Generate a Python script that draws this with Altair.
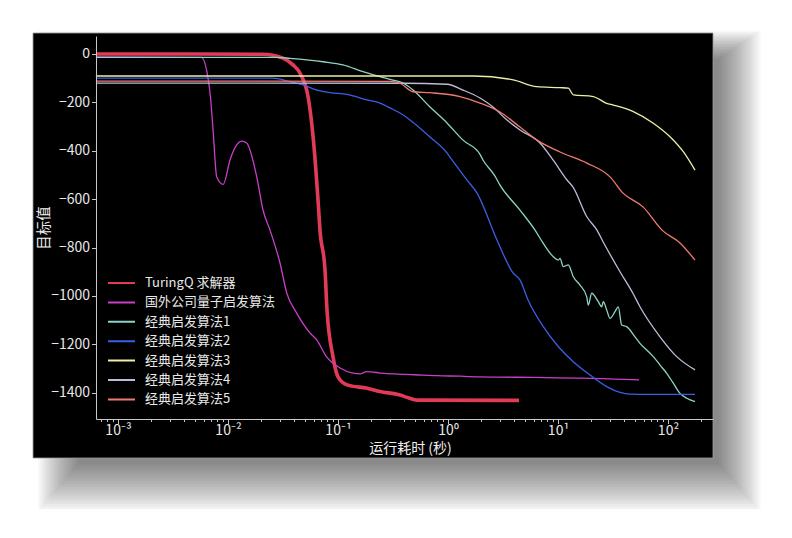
import altair as alt
import pandas as pd

# ---------------- data ----------------
names = ["TuringQ 求解器", "国外公司量子启发算法", "经典启发算法1", "经典启发算法2",
         "经典启发算法3", "经典启发算法4", "经典启发算法5"]
colors = ["#e23b58", "#c93fc9", "#8dd3c7", "#3a5fe5", "#eeeea8", "#bfbbd9", "#f07a70"]

turingq_t = [0.00063, 0.0056, 0.0208, 0.0316, 0.039, 0.0452, 0.0536, 0.0593, 0.0658,
             0.0686, 0.0762, 0.0794, 0.0901, 0.1, 0.121, 0.184, 0.241, 0.366, 0.44,
             0.523, 4.42]
turingq_v = [0, 0, -1, -17, -45, -80, -180, -340, -603, -730, -893, -1058, -1252,
             -1335, -1368, -1382, -1395, -1410, -1422, -1431, -1432]

quantum_t = [0.00063, 0.00572, 0.00662, 0.00697, 0.00735, 0.00789, 0.00906, 0.01043,
             0.012, 0.01341, 0.01479, 0.01824, 0.0208, 0.0241, 0.0297, 0.0342, 0.0421,
             0.0556, 0.064, 0.0789, 0.1043, 0.1369, 0.16, 0.1824, 0.2, 0.241, 0.3,
             0.341, 0.5, 0.8, 1.3, 1.954, 3.0, 6.0, 10.0, 15.85, 25.0, 40.0, 54.5]
quantum_v = [-12, -14, -107, -190, -328, -507, -539, -438, -376, -360, -368, -507,
             -645, -728, -864, -988, -1071, -1153, -1182, -1252, -1298, -1319, -1322,
             -1313, -1314, -1319, -1322, -1323, -1326, -1330, -1332, -1335, -1336,
             -1337, -1339, -1340, -1342, -1345, -1347]

classic1_t = [0.00063, 0.0279, 0.0366, 0.0731, 0.111, 0.1688, 0.241, 0.297, 0.39,
              0.481, 0.686, 0.979, 1.369, 1.954, 2.08, 2.675, 2.97, 4.51, 6.18, 7.35,
              9.06, 10.06, 10.43, 11.17, 12.41, 13.77, 15.85, 18.23, 18.86, 20.24,
              23.24, 24.96, 25.8, 27.7, 29.7, 32.97, 35.3, 37.9, 42.1, 45.1, 50.1,
              55.6, 64.0, 73.5, 84.6, 97.3, 111.7, 128.5, 147.9, 176]
classic1_v = [-14, -14, -18, -32, -45, -73, -94, -105, -120, -149, -219, -285, -356,
              -415, -438, -505, -542, -645, -728, -783, -838, -852, -845, -879, -872,
              -921, -955, -1003, -1038, -989, -1024, -1045, -1024, -1058, -1093,
              -1065, -1045, -1120, -1127, -1141, -1169, -1196, -1224, -1251, -1286,
              -1320, -1361, -1403, -1423, -1437]

classic2_t = [0.00063, 0.0251, 0.0366, 0.0481, 0.0644, 0.0846, 0.1207, 0.1836, 0.241,
              0.297, 0.366, 0.686, 0.979, 1.087, 1.488, 1.835, 2.788, 3.9, 4.51, 5.34,
              7.35, 9.79, 13.77, 19.54, 27.7, 36.6, 45.1, 64.4, 176]
classic2_v = [-100, -100, -114, -128, -149, -160, -167, -190, -203, -223, -244, -343,
              -409, -438, -521, -575, -769, -905, -934, -1017, -1127, -1203, -1272,
              -1327, -1375, -1399, -1406, -1407, -1407]

classic3_t = [0.00063, 1.70, 3.92, 6.4, 10.43, 12.4, 13.77, 20.9, 27.7, 31.8, 48.4,
              73.5, 104.3, 137.7, 176]
classic3_v = [-91, -91, -107, -135, -139, -141, -169, -176, -204, -211, -238, -286,
              -342, -404, -480]

classic4_t = [0.00063, 0.39, 0.979, 1.369, 1.954, 2.565, 3.436, 4.51, 6.86, 9.01, 12.08,
              13.69, 18.35, 22.6, 25.6, 36.6, 48.1, 55.6, 84.6, 120, 176]
classic4_v = [-120, -121, -125, -149, -182, -219, -273, -314, -368, -438, -521, -550,
              -674, -728, -775, -900, -990, -1045, -1169, -1251, -1306]

classic5_t = [0.00063, 0.297, 0.366, 0.481, 0.686, 1.285, 1.954, 2.97, 4.51, 6.44,
              10.43, 18.35, 29.7, 39.0, 59.3, 88.2, 128.5, 176]
classic5_v = [-112, -113, -121, -156, -160, -176, -203, -240, -302, -356, -405, -451,
              -508, -575, -632, -728, -781, -852]

series_t = [turingq_t, quantum_t, classic1_t, classic2_t, classic3_t, classic4_t, classic5_t]
series_v = [turingq_v, quantum_v, classic1_v, classic2_v, classic3_v, classic4_v, classic5_v]

y_ticks = [0, -200, -400, -600, -800, -1000, -1200, -1400]
x_major = [1e-3, 1e-2, 1e-1, 1e0, 1e1, 1e2]

# ---------------- build table ----------------
rows = []
for name, ts, vs in zip(names, series_t, series_v):
    for i, (t, v) in enumerate(zip(ts, vs)):
        rows.append({"series": name, "t": t, "v": v, "i": i})
df = pd.DataFrame(rows)

x_minor = [m * 10.0 ** k for k in range(-4, 3) for m in range(2, 10)]
x_minor = [v for v in x_minor if 10 ** -3.2 <= v <= 10 ** 2.409]
x_values = sorted(x_major + x_minor)

W, H = 617, 383
FONT = "Noto Sans CJK SC"
is_major = "abs(log(datum.value)/LN10 - round(log(datum.value)/LN10)) < 0.001"
sup_expr = (
    "round(log(datum.value)/LN10) == -3 ? '10⁻³' : "
    "round(log(datum.value)/LN10) == -2 ? '10⁻²' : "
    "round(log(datum.value)/LN10) == -1 ? '10⁻¹' : "
    "round(log(datum.value)/LN10) == 0 ? '10⁰' : "
    "round(log(datum.value)/LN10) == 1 ? '10¹' : "
    "round(log(datum.value)/LN10) == 2 ? '10²' : ''"
)

one = pd.DataFrame({"a": [0]})

# ---------------- decorative panel + shadow ----------------
layers = []
N = 20
for k in range(N):
    layers.append(
        alt.Chart(one).mark_rect(color="black", opacity=0.028).encode(
            x=alt.value(-63 + 45 - 2.1 * k),
            x2=alt.value(W + 6 + 2.2 * k),
            y=alt.value(-3 + 26 - 1.5 * k),
            y2=alt.value(422 + 6 + 2.5 * k),
        )
    )
layers.append(
    alt.Chart(one).mark_rect(color="black", stroke="#9a9a9a", strokeWidth=0.8).encode(
        x=alt.value(-63), x2=alt.value(W), y=alt.value(-3), y2=alt.value(422)
    )
)

lines = alt.Chart(df).mark_line(interpolate="monotone").encode(
    x=alt.X(
        "t:Q",
        scale=alt.Scale(type="log", domain=[10 ** -3.2, 10 ** 2.409], nice=False),
        axis=alt.Axis(
            title="运行耗时 (秒)",
            values=x_values,
            labelExpr=f"{is_major} ? ({sup_expr}) : ''",
            labelOverlap=False,
            labelFlush=False,
            grid=False,
            tickSize={"condition": {"test": is_major, "value": 4.5}, "value": 2.5},
            tickColor="#c8c8c8",
            domainColor="#c8c8c8",
            labelColor="#e8e8e8",
            labelFont=FONT,
            labelFontSize=14,
            labelPadding=0,
            titleColor="#f0f0f0",
            titleFont=FONT,
            titleFontSize=14,
            titleFontWeight="normal",
            titleX=314,
            titleY=29,
            titleBaseline="middle",
            titleAlign="center",
            zindex=1,
        ),
    ),
    y=alt.Y(
        "v:Q",
        scale=alt.Scale(domain=[-1508.9, 74.4], nice=False, zero=False),
        axis=alt.Axis(
            title="目标值",
            values=y_ticks,
            format="d",
            labelExpr="replace(datum.label, '-', '−')",
            grid=False,
            tickSize=4.5,
            tickColor="#c8c8c8",
            domainColor="#c8c8c8",
            labelColor="#e8e8e8",
            labelFont=FONT,
            labelFontSize=14,
            labelPadding=2,
            titleColor="#f0f0f0",
            titleFont=FONT,
            titleFontSize=14.5,
            titleFontWeight="normal",
            titleX=-52,
            titleY=191.5,
            titleBaseline="middle",
            titleAlign="center",
            titleAngle=-90,
            zindex=1,
        ),
    ),
    color=alt.Color(
        "series:N",
        scale=alt.Scale(domain=names, range=colors),
        legend=alt.Legend(
            title=None,
            orient="none",
            legendX=11,
            legendY=239,
            symbolType="stroke",
            symbolSize=729,
            symbolStrokeWidth=2,
            clipHeight=16,
            rowPadding=3.4,
            labelOffset=9,
            labelColor="#e8e8e8",
            labelFont=FONT,
            labelFontSize=13,
            labelLimit=300,
            padding=0,
            zindex=1,
        ),
    ),
    strokeWidth=alt.condition(
        alt.datum.series == names[0], alt.value(3.6), alt.value(1.3)
    ),
    order="i:Q",
)
layers.append(lines)

chart = alt.layer(*layers).properties(
    width=W,
    height=H,
    autosize=alt.AutoSizeParams(type="none"),
    padding={"left": 88, "top": 28, "right": 68, "bottom": 90},
    background="white",
).configure_view(stroke=None)

chart.save("out.html", embed_options={"renderer": "svg", "actions": False})
